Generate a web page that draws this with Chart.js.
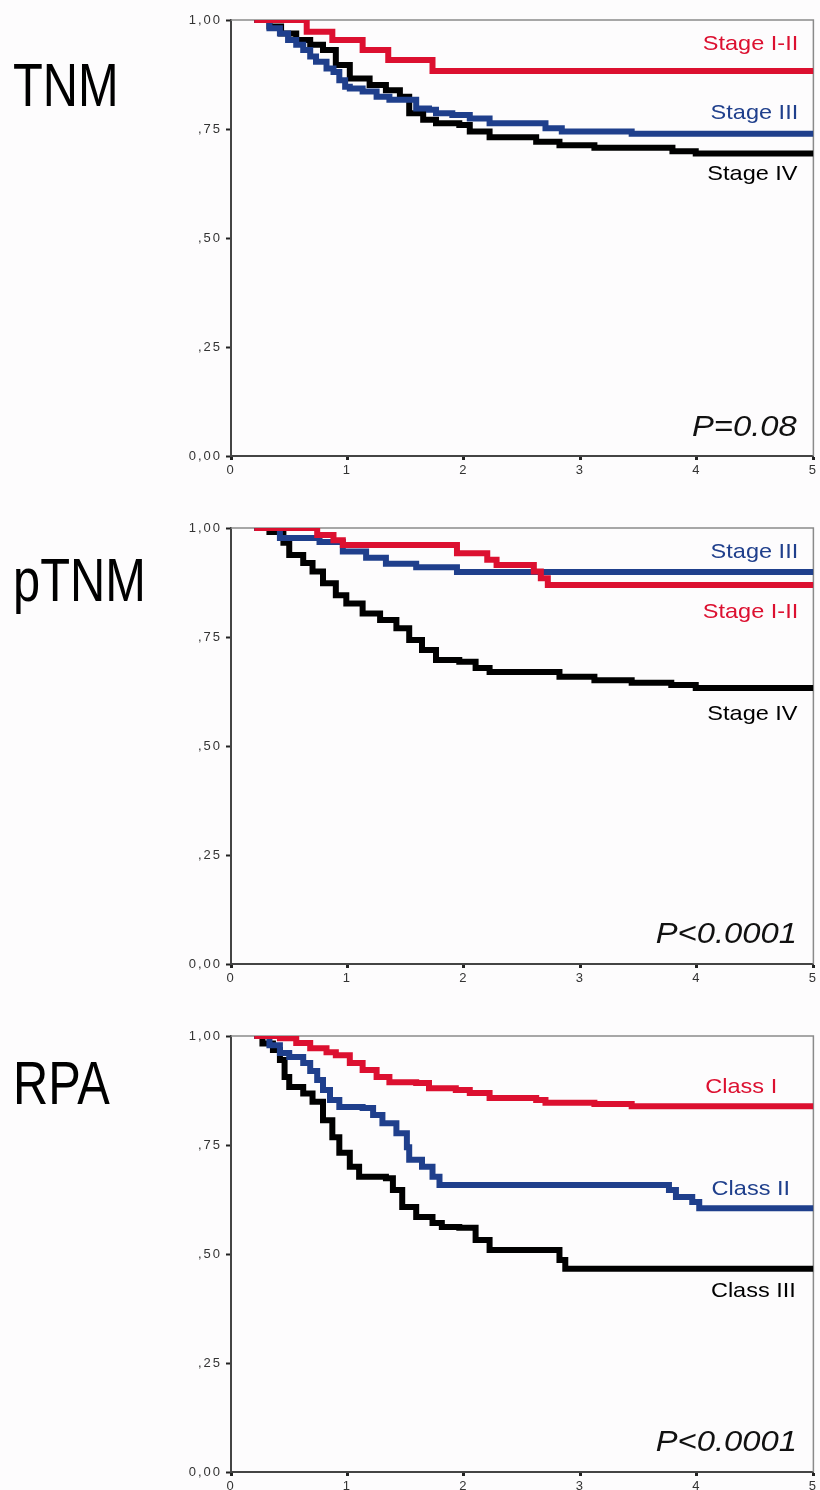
<!DOCTYPE html>
<html>
<head>
<meta charset="utf-8">
<title>Survival by staging system</title>
<script src="https://cdn.jsdelivr.net/npm/chart.js@4.4.1/dist/chart.umd.min.js"></script>
<style>
  html, body { margin: 0; padding: 0; background: #fdfcfd; }
  body { width: 820px; height: 1490px; overflow: hidden; position: relative;
         font-family: "Liberation Sans", Arial, sans-serif; }
  canvas { position: absolute; left: 0; }
  .big { position: absolute; left: 13px; font-size: 61px; line-height: 61px; color: #000;
         transform: scaleX(0.8); transform-origin: left top; white-space: nowrap; }
  .tag { position: absolute; font-size: 21px; line-height: 21px; white-space: nowrap;
         transform: scaleX(1.12); transform-origin: right top; }
  .pval { position: absolute; font-size: 29px; line-height: 29px; font-style: italic; color: #111;
          white-space: nowrap; transform: scaleX(1.13); transform-origin: right top; }
</style>
</head>
<body>
<canvas id="panel0" width="820" height="508" style="top:0px"></canvas>
<canvas id="panel1" width="820" height="508" style="top:508px"></canvas>
<canvas id="panel2" width="820" height="508" style="top:1016px"></canvas>

<script>
// axis text
const yTickLabels = ['0,00', ',25', ',50', ',75', '1,00'];
const panelNames = ['TNM', 'pTNM', 'RPA'];
const pValues = ['P=0.08', 'P<0.0001', 'P<0.0001'];

// TNM
const tnmGroups = ['Stage I-II', 'Stage III', 'Stage IV'];
const tnmStage12Time = [0.2, 0.65, 0.87, 1.13, 1.35, 1.73, 5];
const tnmStage12Surv = [1.0, 0.973, 0.954, 0.931, 0.908, 0.883, 0.883];
const tnmStage3Time = [0.2, 0.33, 0.42, 0.49, 0.56, 0.62, 0.68, 0.73, 0.82, 0.88, 0.93, 0.98, 1.02, 1.13, 1.25, 1.36, 1.59, 1.7, 1.76, 1.9, 2.05, 2.22, 2.7, 2.84, 3.44, 5];
const tnmStage3Surv = [1.0, 0.981, 0.969, 0.954, 0.943, 0.931, 0.916, 0.904, 0.889, 0.881, 0.862, 0.847, 0.843, 0.836, 0.824, 0.817, 0.797, 0.794, 0.786, 0.782, 0.774, 0.763, 0.752, 0.744, 0.739, 0.739];
const tnmStage4Time = [0.2, 0.33, 0.43, 0.56, 0.68, 0.79, 0.9, 1.02, 1.19, 1.33, 1.45, 1.53, 1.65, 1.76, 1.96, 2.05, 2.22, 2.62, 2.82, 3.12, 3.79, 3.99, 5];
const tnmStage4Surv = [1.0, 0.985, 0.969, 0.954, 0.943, 0.931, 0.897, 0.866, 0.851, 0.839, 0.824, 0.786, 0.771, 0.763, 0.759, 0.744, 0.731, 0.721, 0.713, 0.707, 0.699, 0.694, 0.694];

// pTNM
const ptnmGroups = ['Stage I-II', 'Stage III', 'Stage IV'];
const ptnmStage12Time = [0.2, 0.74, 0.88, 0.96, 1.94, 2.2, 2.28, 2.6, 2.66, 2.72, 5];
const ptnmStage12Surv = [1.0, 0.984, 0.972, 0.961, 0.942, 0.927, 0.915, 0.9, 0.885, 0.869, 0.869];
const ptnmStage3Time = [0.2, 0.42, 0.76, 0.96, 1.16, 1.33, 1.59, 1.94, 5];
const ptnmStage3Surv = [1.0, 0.977, 0.968, 0.946, 0.932, 0.918, 0.91, 0.899, 0.899];
const ptnmStage4Time = [0.2, 0.33, 0.45, 0.5, 0.62, 0.7, 0.79, 0.9, 0.99, 1.13, 1.28, 1.42, 1.53, 1.64, 1.76, 1.96, 2.1, 2.22, 2.82, 3.12, 3.44, 3.78, 3.99, 5];
const ptnmStage4Surv = [1.0, 0.991, 0.966, 0.938, 0.92, 0.9, 0.873, 0.846, 0.827, 0.804, 0.789, 0.77, 0.743, 0.72, 0.697, 0.693, 0.679, 0.67, 0.659, 0.651, 0.645, 0.64, 0.633, 0.633];

// RPA
const rpaGroups = ['Class I', 'Class II', 'Class III'];
const rpaClass1Time = [0.2, 0.42, 0.56, 0.68, 0.82, 0.9, 1.02, 1.13, 1.25, 1.36, 1.59, 1.7, 1.93, 2.05, 2.22, 2.62, 2.7, 3.12, 3.44, 5];
const rpaClass1Surv = [1.0, 0.995, 0.984, 0.972, 0.963, 0.956, 0.938, 0.922, 0.906, 0.894, 0.892, 0.88, 0.876, 0.869, 0.858, 0.853, 0.847, 0.844, 0.839, 0.839];
const rpaClass2Time = [0.2, 0.33, 0.42, 0.5, 0.62, 0.68, 0.74, 0.79, 0.85, 0.93, 1.13, 1.22, 1.3, 1.42, 1.51, 1.53, 1.64, 1.73, 1.79, 3.76, 3.82, 3.96, 4.02, 5];
const rpaClass2Surv = [1.0, 0.979, 0.961, 0.952, 0.938, 0.92, 0.899, 0.876, 0.853, 0.837, 0.835, 0.819, 0.8, 0.777, 0.745, 0.716, 0.7, 0.677, 0.658, 0.647, 0.631, 0.619, 0.605, 0.605];
const rpaClass3Time = [0.2, 0.27, 0.36, 0.42, 0.46, 0.5, 0.62, 0.7, 0.79, 0.87, 0.93, 1.02, 1.1, 1.33, 1.39, 1.47, 1.59, 1.73, 1.81, 1.96, 2.1, 2.22, 2.82, 2.87, 5];
const rpaClass3Surv = [1.0, 0.983, 0.968, 0.945, 0.906, 0.883, 0.868, 0.849, 0.807, 0.768, 0.732, 0.7, 0.677, 0.674, 0.647, 0.608, 0.585, 0.571, 0.562, 0.56, 0.532, 0.509, 0.486, 0.466, 0.466];

const lineColors = ['#dc1030', '#1f3f8c', '#000000'];
const tickFont = { family: '"Liberation Sans", Arial, sans-serif', size: 13 };

// gray box along the top and right of the plot area
const framePlugin = {
  id: 'frame',
  beforeDatasetsDraw(chart) {
    const { ctx, chartArea: a } = chart;
    ctx.save();
    ctx.strokeStyle = '#8a8a8a';
    ctx.lineWidth = 1.5;
    ctx.beginPath();
    ctx.moveTo(a.left, a.top);
    ctx.lineTo(a.right, a.top);
    ctx.lineTo(a.right, a.bottom);
    ctx.stroke();
    ctx.restore();
  }
};

// the tick labels are set with a little extra letter spacing
const spacingPlugin = {
  id: 'spacing',
  beforeDraw(chart) { chart.ctx.letterSpacing = '2px'; }
};

function buildPanel(id, groups, times, survs) {
  // survival holds until the next event: horizontal run first, then the drop
  const datasets = groups.map((name, i) => ({
    label: name,
    data: times[i].map((t, k) => ({ x: t, y: survs[i][k] })),
    borderColor: lineColors[i],
    borderWidth: 6,
    stepped: 'before',
    pointRadius: 0,
    fill: false,
    borderCapStyle: 'butt',
    borderJoinStyle: 'miter'
  }));

  return new Chart(document.getElementById(id), {
    type: 'line',
    data: { datasets },
    options: {
      responsive: false,
      animation: false,
      devicePixelRatio: 1,
      layout: { padding: { top: 20, right: 5, left: 0, bottom: 0 } },
      plugins: { legend: { display: false }, tooltip: { enabled: false } },
      scales: {
        x: {
          type: 'linear', min: 0, max: 5,
          ticks: { stepSize: 1, color: '#333', font: tickFont, padding: 3, maxRotation: 0 },
          grid: { drawOnChartArea: false, tickLength: 4, tickWidth: 3, tickColor: '#222' },
          border: { color: '#444', width: 2 },
          afterFit(scale) { scale.height = 52; }
        },
        y: {
          type: 'linear', min: 0, max: 1,
          ticks: { stepSize: 0.25, color: '#333', font: tickFont, padding: 4,
                   callback: (v, i) => yTickLabels[i] },
          grid: { drawOnChartArea: false, tickLength: 5, tickWidth: 2, tickColor: '#222' },
          border: { color: '#444', width: 2 },
          afterFit(scale) { scale.width = 231; }
        }
      }
    },
    plugins: [framePlugin, spacingPlugin]
  });
}

buildPanel('panel0', tnmGroups, [tnmStage12Time, tnmStage3Time, tnmStage4Time],
           [tnmStage12Surv, tnmStage3Surv, tnmStage4Surv]);
buildPanel('panel1', ptnmGroups, [ptnmStage12Time, ptnmStage3Time, ptnmStage4Time],
           [ptnmStage12Surv, ptnmStage3Surv, ptnmStage4Surv]);
buildPanel('panel2', rpaGroups, [rpaClass1Time, rpaClass2Time, rpaClass3Time],
           [rpaClass1Surv, rpaClass2Surv, rpaClass3Surv]);

// text placed by baseline; right edges for the curve names and p values
function addText(cls, text, color, baseline, size, opts) {
  const el = document.createElement('div');
  el.className = cls;
  el.textContent = text;
  el.style.color = color;
  el.style.top = (baseline - 0.8465 * size) + 'px';
  if (opts.right !== undefined) el.style.right = (820 - opts.right) + 'px';
  document.body.appendChild(el);
}

const bigBaselines = [107, 602, 1105];
panelNames.forEach((name, i) => addText('big', name, '#000', bigBaselines[i], 61, {}));

const pBaselines = [437, 944, 1452];
pValues.forEach((p, i) => addText('pval', p, '#111', pBaselines[i], 29, { right: 797 }));

const tagLayout = [
  { names: tnmGroups, baselines: [50, 119, 180], rights: [798, 798, 798] },
  { names: ptnmGroups, baselines: [618, 558, 720], rights: [798, 798, 798] },
  { names: rpaGroups, baselines: [1093, 1195, 1297], rights: [777, 790, 796] }
];
tagLayout.forEach(panel => {
  panel.names.forEach((name, i) => {
    addText('tag', name, lineColors[i], panel.baselines[i], 21, { right: panel.rights[i] });
  });
});
</script>
</body>
</html>
